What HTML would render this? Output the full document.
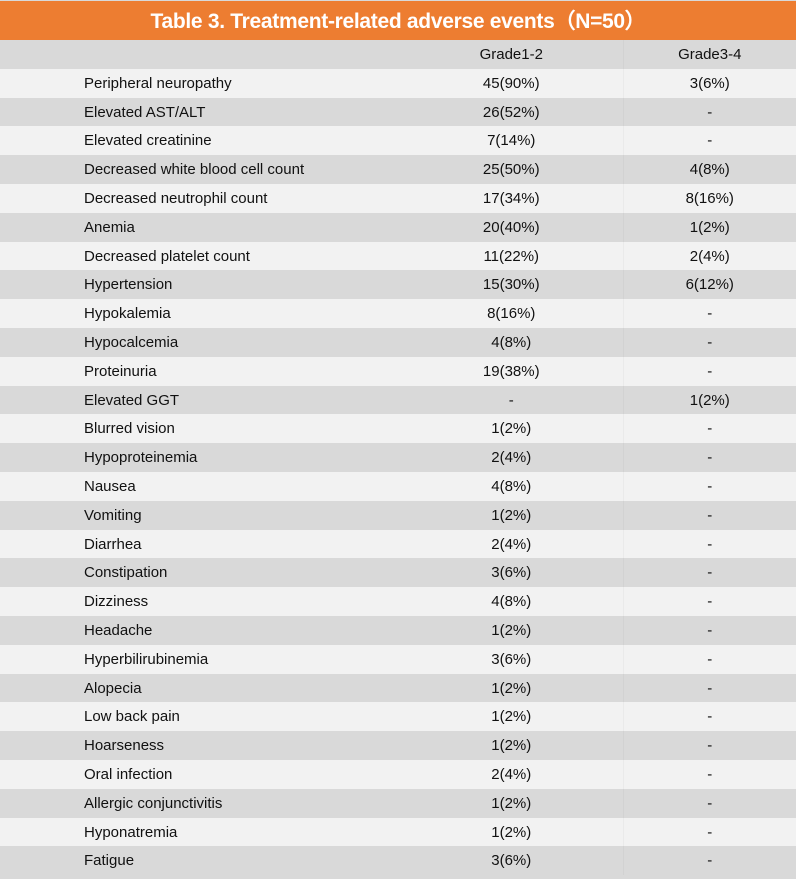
<!DOCTYPE html>
<html><head><style>
body{margin:0;width:796px;height:879px;background:#d9d9d9;font-family:"Liberation Sans",sans-serif;overflow:hidden}
.t{position:absolute;left:0;top:1px;width:796px;height:39px;background:#ed7d31;color:#fff;font-weight:bold;font-size:21px;line-height:41px;text-align:center;letter-spacing:-0.3px}
table{position:absolute;left:0;top:40px;width:796px;border-collapse:collapse;font-size:15px;color:#111}
td{height:28.8px;padding:2px 0 0 0;line-height:26.8px;box-sizing:border-box}
td:nth-child(1){width:84px}
td:nth-child(2){width:316px}
td:nth-child(3){width:223px;text-align:center}
td:nth-child(4){text-align:center;border-left:1px solid rgba(0,0,0,0.03)}
tr:nth-child(odd){background:#d9d9d9}
tr:nth-child(even){background:#f2f2f2}
</style></head><body>
<div class="t">Table 3. Treatment-related adverse events（N=50）</div>
<table>
<tr><td></td><td></td><td>Grade1-2</td><td>Grade3-4</td></tr>
<tr><td></td><td>Peripheral neuropathy</td><td>45(90%)</td><td>3(6%)</td></tr>
<tr><td></td><td>Elevated AST/ALT</td><td>26(52%)</td><td>-</td></tr>
<tr><td></td><td>Elevated creatinine</td><td>7(14%)</td><td>-</td></tr>
<tr><td></td><td>Decreased white blood cell count</td><td>25(50%)</td><td>4(8%)</td></tr>
<tr><td></td><td>Decreased neutrophil count</td><td>17(34%)</td><td>8(16%)</td></tr>
<tr><td></td><td>Anemia</td><td>20(40%)</td><td>1(2%)</td></tr>
<tr><td></td><td>Decreased platelet count</td><td>11(22%)</td><td>2(4%)</td></tr>
<tr><td></td><td>Hypertension</td><td>15(30%)</td><td>6(12%)</td></tr>
<tr><td></td><td>Hypokalemia</td><td>8(16%)</td><td>-</td></tr>
<tr><td></td><td>Hypocalcemia</td><td>4(8%)</td><td>-</td></tr>
<tr><td></td><td>Proteinuria</td><td>19(38%)</td><td>-</td></tr>
<tr><td></td><td>Elevated GGT</td><td>-</td><td>1(2%)</td></tr>
<tr><td></td><td>Blurred vision</td><td>1(2%)</td><td>-</td></tr>
<tr><td></td><td>Hypoproteinemia</td><td>2(4%)</td><td>-</td></tr>
<tr><td></td><td>Nausea</td><td>4(8%)</td><td>-</td></tr>
<tr><td></td><td>Vomiting</td><td>1(2%)</td><td>-</td></tr>
<tr><td></td><td>Diarrhea</td><td>2(4%)</td><td>-</td></tr>
<tr><td></td><td>Constipation</td><td>3(6%)</td><td>-</td></tr>
<tr><td></td><td>Dizziness</td><td>4(8%)</td><td>-</td></tr>
<tr><td></td><td>Headache</td><td>1(2%)</td><td>-</td></tr>
<tr><td></td><td>Hyperbilirubinemia</td><td>3(6%)</td><td>-</td></tr>
<tr><td></td><td>Alopecia</td><td>1(2%)</td><td>-</td></tr>
<tr><td></td><td>Low back pain</td><td>1(2%)</td><td>-</td></tr>
<tr><td></td><td>Hoarseness</td><td>1(2%)</td><td>-</td></tr>
<tr><td></td><td>Oral infection</td><td>2(4%)</td><td>-</td></tr>
<tr><td></td><td>Allergic conjunctivitis</td><td>1(2%)</td><td>-</td></tr>
<tr><td></td><td>Hyponatremia</td><td>1(2%)</td><td>-</td></tr>
<tr><td></td><td>Fatigue</td><td>3(6%)</td><td>-</td></tr>
</table>
</body></html>
